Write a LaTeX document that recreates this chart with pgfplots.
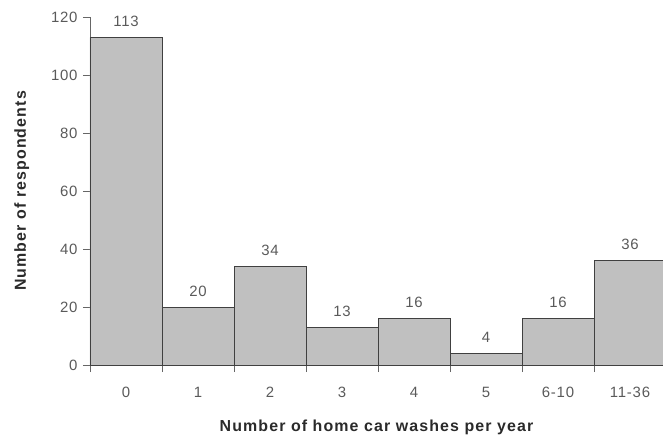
\documentclass[border=0pt]{standalone}
\usepackage{pgfplots}
\pgfplotsset{compat=1.18}
\usepackage{fontspec}
\setmainfont{Liberation Sans}
\newfontfamily\chartfont[LetterSpace=5]{Liberation Sans}
\newfontfamily\labelfont[LetterSpace=7]{Liberation Sans}
\definecolor{barfill}{HTML}{C0C0C0}
\definecolor{baredge}{HTML}{404040}
\definecolor{txt}{HTML}{5A5A5A}
\definecolor{lbl}{HTML}{2A2A2A}
\begin{document}
\begin{tikzpicture}
\useasboundingbox (-90bp,-71bp) rectangle (573bp,365bp);
\begin{axis}[
  at={(0,0)}, anchor=south west,
  scale only axis, width=573bp, height=348bp,
  xmin=-0.5, xmax=7.458, ymin=0, ymax=120,
  axis lines=left, axis line style={-, draw=gray!80!black, line width=0.8pt},
  ytick={0,20,...,120},
  xtick={0,...,7},
  xticklabels={0,1,2,3,4,5,6-10,11-36},
  major x tick style={draw=none},
  minor xtick={-0.5,0.5,1.5,2.5,3.5,4.5,5.5,6.5},
  minor x tick style={draw=gray!80!black, line width=0.8pt},
  minor tick length=7bp,
  major tick length=7bp,
  tick align=outside,
  y tick style={draw=gray!80!black, line width=0.8pt},
  tick label style={font=\chartfont\fontsize{15}{17}\selectfont, text=txt},
  /pgf/number format/assume math mode=true,
  xticklabel style={yshift=-12bp},
  yticklabel style={xshift=-2bp},
  xlabel={Number of home car washes per year},
  ylabel={Number of respondents},
  label style={font=\labelfont\fontsize{16}{18}\selectfont\bfseries, text=lbl},
  xlabel style={yshift=-15bp},
  ylabel style={yshift=15bp},
  clip=true,
  nodes near coords,
  nodes near coords style={font=\chartfont\fontsize{15}{17}\selectfont, text=txt, anchor=south, yshift=7bp},
]
\addplot[ybar, bar width=1, fill=barfill, draw=baredge, line width=0.8pt]
  coordinates {(0,113) (1,20) (2,34) (3,13) (4,16) (5,4) (6,16) (7,36)};
\end{axis}
\end{tikzpicture}
\end{document}
